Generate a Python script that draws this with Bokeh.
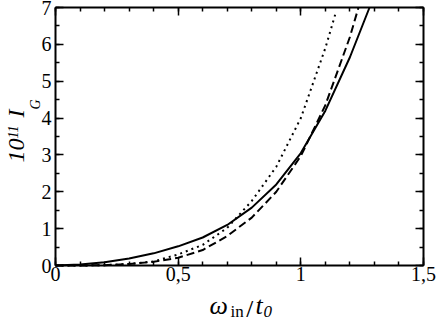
import math
from bokeh.plotting import figure
from bokeh.models import Range1d, LinearAxis, FixedTicker, Label
from bokeh.embed import file_html
from bokeh.resources import INLINE

# ---- data ----
x_solid = [0.0, 0.1, 0.2, 0.3, 0.4, 0.5, 0.6, 0.7, 0.8, 0.9, 1.0, 1.1, 1.2, 1.28]
y_solid = [0.0, 0.03, 0.09, 0.19, 0.33, 0.52, 0.76, 1.1, 1.57, 2.2, 3.05, 4.2, 5.65, 7.0]

x_dashed = [0.0, 0.1, 0.2, 0.3, 0.4, 0.5, 0.6, 0.7, 0.8, 0.9, 1.0, 1.1, 1.2, 1.235]
y_dashed = [0.0, 0.0, 0.01, 0.04, 0.1, 0.21, 0.42, 0.8, 1.3, 2.0, 2.97, 4.35, 6.2, 7.0]

x_dotted = [0.0, 0.1, 0.2, 0.3, 0.4, 0.5, 0.6, 0.7, 0.8, 0.9, 1.0, 1.1, 1.141]
y_dotted = [0.0, 0.0, 0.01, 0.04, 0.11, 0.3, 0.56, 1.02, 1.75, 2.68, 4.0, 5.9, 6.83]

x_ticks = [0, 0.5, 1, 1.5]
x_tick_labels = ["0", "0,5", "1", "1,5"]
y_ticks = [0, 1, 2, 3, 4, 5, 6, 7]
y_tick_labels = ["0", "1", "2", "3", "4", "5", "6", "7"]
x_minor = [round(i * 0.1, 2) for i in range(16)]
y_minor = [round(i * 0.5, 2) for i in range(15)]
X_MIN, X_MAX = 0.0, 1.5
Y_MIN, Y_MAX = 0.0, 7.0

# ---- layout (pixels) ----
W, H = 436, 317
LEFT_PX, RIGHT_PX, TOP_PX, BOTTOM_PX = 55, 423, 7, 265
FONT = "Liberation Serif"

xu = (X_MAX - X_MIN) / (RIGHT_PX - LEFT_PX)
yu = (Y_MAX - Y_MIN) / (BOTTOM_PX - TOP_PX)
x_range = Range1d(X_MIN - LEFT_PX * xu, X_MAX + (W - RIGHT_PX) * xu)
y_range = Range1d(Y_MIN - (H - BOTTOM_PX) * yu, Y_MAX + TOP_PX * yu)

p = figure(width=W, height=H, output_backend="svg", toolbar_location=None,
           x_range=x_range, y_range=y_range, x_axis_location=None, y_axis_location=None,
           min_border=0)
p.grid.visible = False
p.outline_line_color = None
p.background_fill_color = "white"
p.border_fill_color = "white"

p.line(x_solid, y_solid, line_color="black", line_width=2)
p.line(x_dashed, y_dashed, line_color="black", line_width=2, line_dash="8 4")
p.line(x_dotted, y_dotted, line_color="black", line_width=2, line_dash="2 4")


def make_axis(ticks, minor, labels, show, loc, bounds):
    ax = LinearAxis(fixed_location=loc, bounds=bounds)
    ax.ticker = FixedTicker(ticks=ticks, minor_ticks=minor)
    ax.axis_line_width = 2
    ax.axis_line_color = "black"
    ax.major_tick_in = 8
    ax.major_tick_out = 0
    ax.minor_tick_in = 4
    ax.minor_tick_out = 0
    ax.major_tick_line_width = 1.5
    ax.minor_tick_line_width = 1.5
    ax.major_tick_line_color = "black"
    ax.minor_tick_line_color = "black"
    ax.major_label_text_font = FONT
    ax.major_label_text_color = "black"
    if show:
        ax.major_label_overrides = {t: l for t, l in zip(ticks, labels)}
        ax.major_label_text_font_size = "20px"
    else:
        ax.major_label_overrides = {t: "" for t in ticks}
        ax.major_label_text_font_size = "0px"
        ax.major_label_standoff = 0
    return ax


bottom = make_axis(x_ticks, x_minor, x_tick_labels, True, Y_MIN, (X_MIN, X_MAX))
bottom.major_label_standoff = 1
left = make_axis(y_ticks, y_minor, y_tick_labels, True, X_MIN, (Y_MIN, Y_MAX))
left.major_label_standoff = 4
top = make_axis(x_ticks, x_minor, x_tick_labels, False, Y_MAX, (X_MIN, X_MAX))
right = make_axis(y_ticks, y_minor, y_tick_labels, False, X_MAX, (Y_MIN, Y_MAX))
p.add_layout(bottom, "below")
p.add_layout(left, "left")
p.add_layout(top, "above")
p.add_layout(right, "right")


def lab(text, px, py, size, italic=True, angle=0.0, align="left", baseline="alphabetic"):
    # px, py: pixel position from the top-left corner of the picture
    p.add_layout(Label(x=px, y=H - py, x_units="screen", y_units="screen", text=text,
                       text_font=FONT, text_font_size=f"{size}px",
                       text_font_style="italic" if italic else "normal",
                       text_color="black", text_align=align,
                       text_baseline=baseline, angle=angle))


# y-axis title: 10^11 I_G (rotated, placed by centre)
A = math.pi / 2
lab("10", 15.5, 150, 24, True, A, "center", "middle")
lab("11", 12.5, 131.5, 14, True, A, "center", "middle")
lab("I", 15.5, 113, 24, True, A, "center", "middle")
lab("G", 34.5, 104, 14, True, A, "center", "middle")

# x-axis title: omega_in / t_0
lab("\u03c9", 209, 305, 26, True)
lab("in", 230, 311, 17, False)
lab("/", 245, 309, 28, False)
lab("t", 255, 305, 26, True)
lab("0", 263, 311, 17, True)

open("out.html", "w").write(file_html(p, INLINE))
